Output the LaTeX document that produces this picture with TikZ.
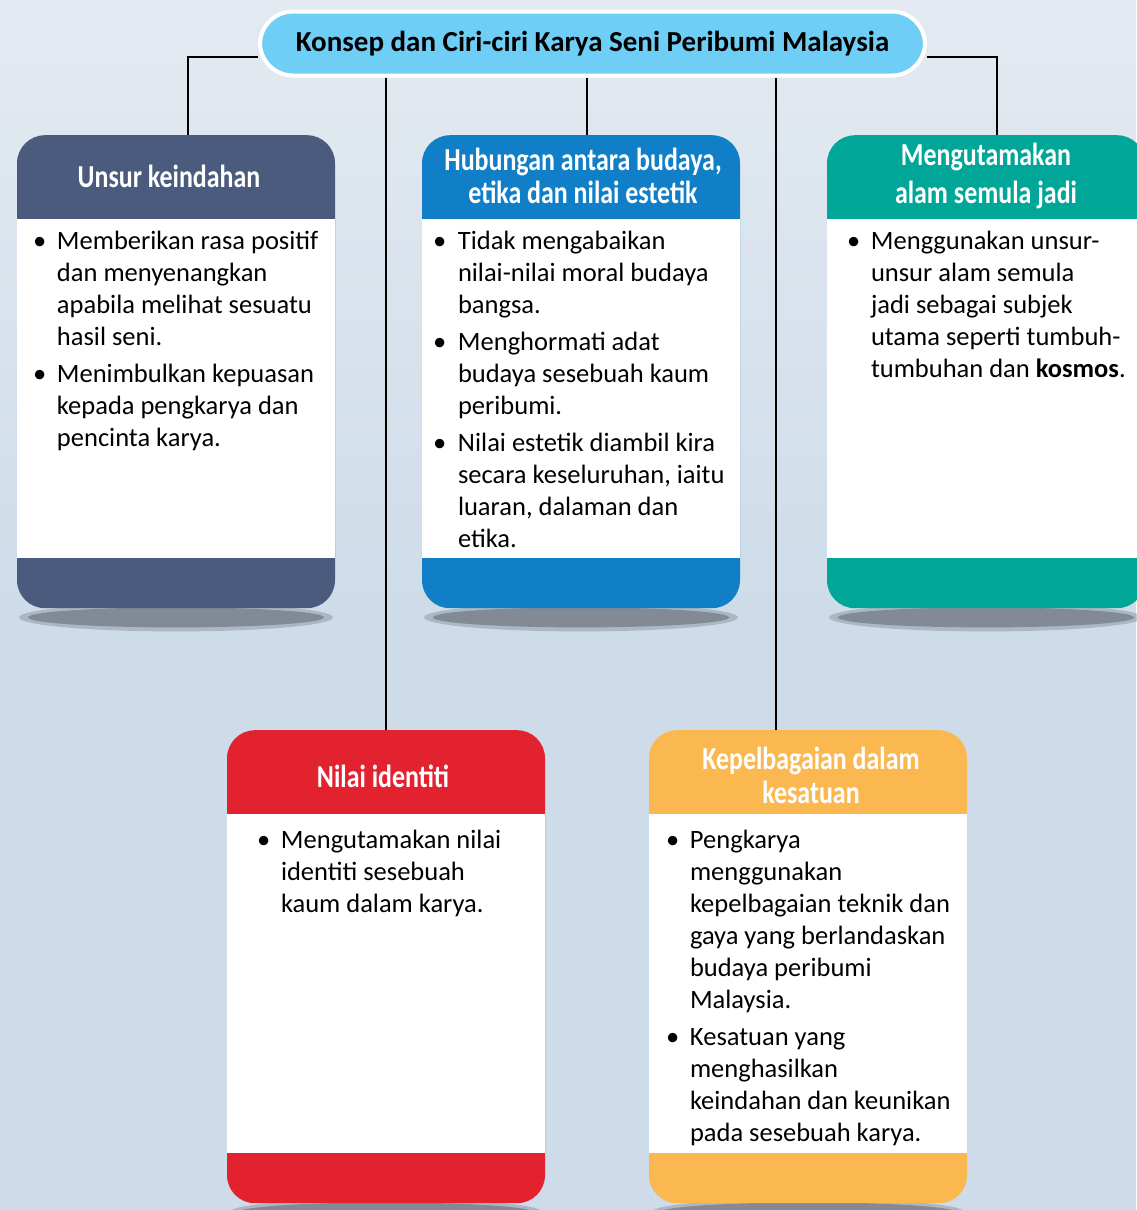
\documentclass[tikz,border=0pt]{standalone}
\usepackage{fontspec}
\setmainfont{Carlito}
\newfontfamily\headfont{Carlito}[FakeStretch=0.81]
\usepackage{tikz}
\usetikzlibrary{positioning, backgrounds, calc}
\definecolor{bgtop}{RGB}{228,234,241}
\definecolor{bgbottom}{RGB}{206,220,233}
\definecolor{titlecolor}{RGB}{110,206,245}
\definecolor{keindahancolor}{RGB}{74,91,125}
\definecolor{hubungancolor}{RGB}{17,127,199}
\definecolor{alamcolor}{RGB}{0,167,153}
\definecolor{identiticolor}{RGB}{227,34,48}
\definecolor{kesatuancolor}{RGB}{252,184,80}
\definecolor{shadowcolor}{RGB}{130,138,149}

\begin{document}
\begin{tikzpicture}[
    x=1pt, y=-1pt,
    titlebox/.style={rectangle, rounded corners=33pt, draw=white, line width=4pt, fill=titlecolor, minimum width=665pt, minimum height=64pt, font=\bfseries\fontsize{29}{32}\selectfont},
    card/.style={rectangle, rounded corners=28pt, minimum width=318pt, minimum height=473pt, inner sep=0pt, anchor=north},
    headtext/.style={text=white, align=center, inner sep=0pt, font=\headfont\bfseries\fontsize{32}{34}\selectfont},
    bodytext/.style={anchor=base west, inner sep=0pt, font=\fontsize{26.5}{32}\selectfont},
    link/.style={line width=2.5pt, black},
    shadowout/.style={fill=shadowcolor, opacity=0.45},
    shadowin/.style={fill=shadowcolor}
]
    \useasboundingbox (0,0) rectangle (1136,1210);

    % Title
    \node[titlebox] (title) at (592.5,43.5) {Konsep dan Ciri-ciri Karya Seni Peribumi Malaysia};

    % Cards
    \node[card, fill=keindahancolor] (keindahan) at (176,135) {};
    \node[card, fill=hubungancolor] (hubungan) at (581,135) {};
    \node[card, fill=alamcolor] (alam) at (986,135) {};
    \node[card, fill=identiticolor] (identiti) at (386,730) {};
    \node[card, fill=kesatuancolor] (kesatuan) at (808,730) {};

    % White bodies
    \fill[white] ([yshift=-84pt]keindahan.north west) rectangle ([yshift=50pt]keindahan.south east);
    \fill[white] ([yshift=-84pt]hubungan.north west) rectangle ([yshift=50pt]hubungan.south east);
    \fill[white] ([yshift=-84pt]alam.north west) rectangle ([yshift=50pt]alam.south east);
    \fill[white] ([yshift=-84pt]identiti.north west) rectangle ([yshift=50pt]identiti.south east);
    \fill[white] ([yshift=-84pt]kesatuan.north west) rectangle ([yshift=50pt]kesatuan.south east);

    % Headers
    \node[headtext] (keindahanhead) at ([xshift=-7pt,yshift=-41pt]keindahan.north) {Unsur keindahan};
    \node[headtext, font=\headfont\bfseries\fontsize{32}{33}\selectfont] (hubunganhead) at ([xshift=2pt,yshift=-41pt]hubungan.north) {Hubungan antara budaya,\\etika dan nilai estetik};
    \node[headtext, font=\headfont\bfseries\fontsize{32}{38}\selectfont] (alamhead) at ([yshift=-41pt]alam.north) {Mengutamakan\\alam semula jadi};
    \node[headtext] (identitihead) at ([xshift=-3pt,yshift=-46pt]identiti.north) {Nilai identiti};
    \node[headtext] (kesatuanhead) at ([xshift=3pt,yshift=-45pt]kesatuan.north) {Kepelbagaian dalam\\kesatuan};

    % Bullet texts
    \node[bodytext] (keindahantext) at ($(keindahan.north west)+(16,114)$) {%
        \begin{tabular}[t]{@{}p{24pt}@{}l@{}}
        \textbullet & Memberikan rasa positif\\
                    & dan menyenangkan\\
                    & apabila melihat sesuatu\\
                    & hasil seni.\\[5pt]
        \textbullet & Menimbulkan kepuasan\\
                    & kepada pengkarya dan\\
                    & pencinta karya.
        \end{tabular}};
    \node[bodytext] (hubungantext) at ($(hubungan.north west)+(11,114)$) {%
        \begin{tabular}[t]{@{}p{25pt}@{}l@{}}
        \textbullet & Tidak mengabaikan\\
                    & nilai-nilai moral budaya\\
                    & bangsa.\\[5pt]
        \textbullet & Menghormati adat\\
                    & budaya sesebuah kaum\\
                    & peribumi.\\[5pt]
        \textbullet & Nilai estetik diambil kira\\
                    & secara keseluruhan, iaitu\\
                    & luaran, dalaman dan\\
                    & etika.
        \end{tabular}};
    \node[bodytext] (alamtext) at ($(alam.north west)+(20,114)$) {%
        \begin{tabular}[t]{@{}p{24pt}@{}l@{}}
        \textbullet & Menggunakan unsur-\\
                    & unsur alam semula\\
                    & jadi sebagai subjek\\
                    & utama seperti tumbuh-\\
                    & tumbuhan dan \textbf{kosmos}.
        \end{tabular}};
    \node[bodytext] (identititext) at ($(identiti.north west)+(30,118)$) {%
        \begin{tabular}[t]{@{}p{24pt}@{}l@{}}
        \textbullet & Mengutamakan nilai\\
                    & identiti sesebuah\\
                    & kaum dalam karya.
        \end{tabular}};
    \node[bodytext] (kesatuantext) at ($(kesatuan.north west)+(17,118)$) {%
        \begin{tabular}[t]{@{}p{24pt}@{}l@{}}
        \textbullet & Pengkarya\\
                    & menggunakan\\
                    & kepelbagaian teknik dan\\
                    & gaya yang berlandaskan\\
                    & budaya peribumi\\
                    & Malaysia.\\[5pt]
        \textbullet & Kesatuan yang\\
                    & menghasilkan\\
                    & keindahan dan keunikan\\
                    & pada sesebuah karya.
        \end{tabular}};

    \begin{pgfonlayer}{background}
        % Background
        \shade[top color=bgtop, bottom color=bgbottom, middle color=bgbottom] (0,0) rectangle (1136,1210);

        % Shadows
        \fill[shadowout] ([yshift=-9pt]keindahan.south) ellipse (157 and 14);
        \fill[shadowin] ([yshift=-9pt]keindahan.south) ellipse (148 and 10);
        \fill[shadowout] ([yshift=-9pt]hubungan.south) ellipse (157 and 14);
        \fill[shadowin] ([yshift=-9pt]hubungan.south) ellipse (148 and 10);
        \fill[shadowout] ([yshift=-9pt]alam.south) ellipse (157 and 14);
        \fill[shadowin] ([yshift=-9pt]alam.south) ellipse (148 and 10);
        \fill[shadowout] ([yshift=-9pt]identiti.south) ellipse (157 and 14);
        \fill[shadowin] ([yshift=-9pt]identiti.south) ellipse (148 and 10);
        \fill[shadowout] ([yshift=-9pt]kesatuan.south) ellipse (157 and 14);
        \fill[shadowin] ([yshift=-9pt]kesatuan.south) ellipse (148 and 10);

        % Connectors
        \draw[link] ([yshift=-13.5pt]title.west) -| ([xshift=12pt]keindahan.north);
        \draw[link] ([yshift=-13.5pt]title.east) -| ([xshift=11pt]alam.north);
        \draw[link] ([xshift=-5.5pt]title.south) -- ([xshift=6pt]hubungan.north);
        \draw[link] (identiti.north |- title.south) -- (identiti.north);
        \draw[link] ([xshift=183.5pt]title.south) -- ([xshift=-32pt]kesatuan.north);
    \end{pgfonlayer}
\end{tikzpicture}
\end{document}
